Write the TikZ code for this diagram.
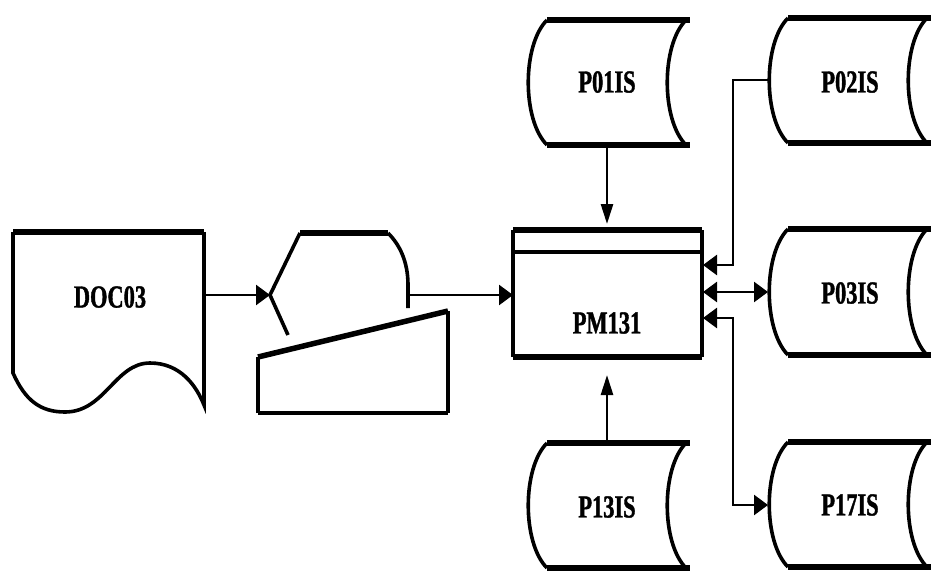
\documentclass[tikz,border=0pt]{standalone}
\usepackage{fontspec}
\setmainfont{Liberation Serif}[FakeStretch=0.7,BoldFeatures={FakeBold=1.2}]
\usetikzlibrary{arrows.meta}
\tikzset{
  hline/.style={line width=6pt},
  vline/.style={line width=3.6pt},
  conn/.style={line width=2.6pt},
  ha/.tip={Triangle[length=14pt,width=20pt]},
  va/.tip={Triangle[length=20pt,width=12pt]},
  lbl/.style={font=\fontsize{32}{32}\selectfont\bfseries, inner sep=0pt}
}
\newcommand{\mystore}[2]{%
  \begin{scope}[shift={#1}]
    \draw[hline] (0,0) -- (143,0);
    \draw[hline] (0,#2) -- (143,#2);
    \draw[vline] (0,0) .. controls (-25,0.2*#2) and (-25,0.8*#2) .. (0,#2);
    \draw[vline] (139,0) .. controls (114,0.2*#2) and (114,0.8*#2) .. (139,#2);
  \end{scope}}
\begin{document}
\begin{tikzpicture}[x=1pt,y=-1pt]
\useasboundingbox (0,0) rectangle (932,571);
% DOC03 document
\draw[hline] (13,232) -- (204,232);
\draw[vline] (13,232) -- (13,373) .. controls (25,400) and (40,412) .. (65,412)
   .. controls (105,412) and (115,363) .. (150,363)
   .. controls (180,363) and (196,385) .. (204,405) -- (204,232);
\node[lbl] (doc) at (110,297) {DOC03};
% terminal: display + keyboard
\draw[hline] (300,233) -- (388,233);
\draw[vline] (300,233) -- (270,295) -- (288,335);
\draw[vline] (388,233) .. controls (400,245) and (408,262) .. (408,285) -- (408,308);
\draw[vline] (258,413) -- (258,357);
\draw[line width=5.5pt] (258,357) -- (448,311);
\draw[vline] (448,311) -- (448,413);
\draw[line width=4.5pt] (258,413) -- (448,413);
\coordinate (docR) at (204,295);
\coordinate (termL) at (270,295);
\coordinate (termR) at (408,295);
% PM131
\draw[hline] (513,230) -- (702,230);
\draw[hline] (513,357) -- (702,357);
\draw[vline] (513,230) -- (513,357);
\draw[vline] (702,230) -- (702,357);
\draw[vline] (513,252) -- (702,252);
\node[lbl] (pm) at (607,323) {PM131};
\coordinate (pmL) at (513,295);
\coordinate (pmT) at (607,230);
\coordinate (pmB) at (607,357);
\coordinate (pmR1) at (703,265);
\coordinate (pmR2) at (703,292);
\coordinate (pmR3) at (703,318);
% storages
\mystore{(547,20)}{125}
\node[lbl] (p01) at (607,82) {P01IS};
\coordinate (p01B) at (607,145);
\mystore{(547,443)}{125}
\node[lbl] (p13) at (607,507) {P13IS};
\coordinate (p13T) at (607,443);
\mystore{(788,18)}{125}
\node[lbl] (p02) at (850,82) {P02IS};
\coordinate (p02L) at (768,80);
\mystore{(788,229)}{126}
\node[lbl] (p03) at (850,293) {P03IS};
\coordinate (p03L) at (768,292);
\mystore{(788,442)}{125}
\node[lbl] (p17) at (850,505) {P17IS};
\coordinate (p17L) at (768,505);
\coordinate (bus) at (733,0);
% connectors
\draw[conn,-{ha}] (docR) -- (termL);
\draw[conn,-{ha}] (termR) -- (pmL);
\draw[conn,-{va},shorten >=6pt] (p01B) -- (pmT);
\draw[conn,-{va},shorten >=18pt] (p13T) -- (pmB);
\draw[conn,-{ha}] (p02L) -- (p02L -| bus) -- (bus |- pmR1) -- (pmR1);
\draw[conn,{ha}-{ha}] (pmR2) -- (p03L);
\draw[conn,{ha}-{ha}] (pmR3) -- (bus |- pmR3) -- (bus |- p17L) -- (p17L);
\end{tikzpicture}
\end{document}
